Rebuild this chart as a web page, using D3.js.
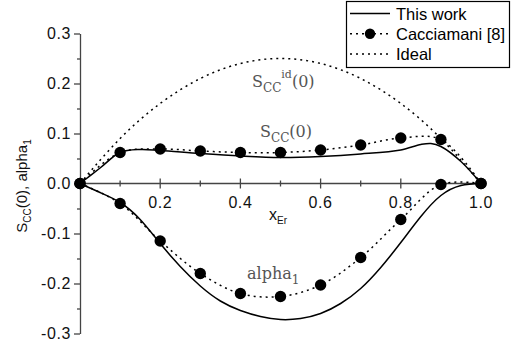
<!DOCTYPE html>
<html>
<head>
<meta charset="utf-8">
<script src="https://cdn.jsdelivr.net/npm/d3@7"></script>
<style>
  body { margin: 0; background: #fff; }
  svg { display: block; }
</style>
</head>
<body>
<div id="chart"></div>
<script>
// This work (solid)
var workSccX   = [0, 0.05, 0.1, 0.15, 0.2, 0.3, 0.4, 0.5, 0.6, 0.7, 0.8, 0.85, 0.875, 0.9, 0.95, 1.0];
var workSccY   = [0, 0.031, 0.062, 0.068, 0.066, 0.060, 0.055, 0.052, 0.054, 0.059, 0.067, 0.078, 0.080, 0.074, 0.044, 0];
var workAlphaX = [0, 0.05, 0.1, 0.15, 0.2, 0.25, 0.3, 0.35, 0.4, 0.45, 0.5, 0.55, 0.6, 0.65, 0.7, 0.75, 0.8, 0.85, 0.9, 0.95, 1.0];
var workAlphaY = [0, -0.018, -0.038, -0.072, -0.12, -0.166, -0.205, -0.235, -0.254, -0.266, -0.272, -0.27, -0.26, -0.24, -0.21, -0.168, -0.118, -0.066, -0.024, -0.004, 0];

// Cacciamani [8] (dots)
var refX      = [0, 0.1, 0.2, 0.3, 0.4, 0.5, 0.6, 0.7, 0.8, 0.9, 1.0];
var refSccY   = [0, 0.062, 0.069, 0.065, 0.062, 0.062, 0.067, 0.077, 0.091, 0.088, 0];
var refAlphaY = [0, -0.040, -0.115, -0.180, -0.220, -0.226, -0.203, -0.148, -0.072, -0.002, 0];

// Ideal
var idealX = [0, 0.1, 0.2, 0.3, 0.4, 0.5, 0.6, 0.7, 0.8, 0.9, 1.0];
var idealY = [0, 0.09, 0.16, 0.21, 0.24, 0.25, 0.24, 0.21, 0.16, 0.09, 0];

var yTicks = [-0.3, -0.2, -0.1, 0.0, 0.1, 0.2, 0.3];
var xTicks = [0.2, 0.4, 0.6, 0.8, 1.0];
var legendNames = ["This work", "Cacciamani [8]", "Ideal"];

var width = 511, height = 345;
var left = 80;

var svg = d3.select("#chart").append("svg")
  .attr("width", width)
  .attr("height", height);

var x = d3.scaleLinear().domain([0, 1]).range([left, 481]);
var y = d3.scaleLinear().domain([-0.3, 0.3]).range([333.5, 33.5]);

var axisColor = "#444";
var sans = "Liberation Sans, Arial, sans-serif";
var fmt = function(d) { return d3.format(".1f")(d).replace("\u2212", "-"); };

// y axis, minor ticks then major ticks
var yMinor = svg.append("g")
  .attr("transform", "translate(" + left + ",0)")
  .call(d3.axisLeft(y).tickValues(d3.range(-0.25, 0.3, 0.1)).tickSize(3).tickFormat(""));
var yMajor = svg.append("g")
  .attr("transform", "translate(" + left + ",0)")
  .call(d3.axisLeft(y).tickValues(yTicks).tickSize(6).tickSizeOuter(0).tickPadding(3).tickFormat(fmt));
[yMinor, yMajor].forEach(function(g) {
  g.selectAll("path, line").attr("stroke", axisColor).attr("stroke-width", 1.3);
});
yMinor.select(".domain").remove();
yMajor.selectAll("text")
  .attr("font-family", sans)
  .attr("font-size", 16)
  .attr("letter-spacing", 0.6)
  .attr("fill", "#111");

// x axis line through y = 0, ticks crossing it
var xg = svg.append("g").attr("transform", "translate(0," + y(0) + ")");
xg.append("line")
  .attr("x1", x(0)).attr("x2", x(1))
  .attr("stroke", axisColor).attr("stroke-width", 1.3);
xg.selectAll(".minor")
  .data([0.1, 0.3, 0.5, 0.7, 0.9])
  .enter().append("line")
  .attr("x1", function(d) { return x(d); })
  .attr("x2", function(d) { return x(d); })
  .attr("y1", -3).attr("y2", 3)
  .attr("stroke", axisColor).attr("stroke-width", 1.3);
xg.selectAll(".major")
  .data(xTicks)
  .enter().append("line")
  .attr("x1", function(d) { return x(d); })
  .attr("x2", function(d) { return x(d); })
  .attr("y1", -5).attr("y2", 5)
  .attr("stroke", axisColor).attr("stroke-width", 1.3);
xg.selectAll("text")
  .data(xTicks)
  .enter().append("text")
  .attr("x", function(d) { return x(d); })
  .attr("y", 24)
  .attr("text-anchor", "middle")
  .attr("font-family", sans)
  .attr("font-size", 16)
  .attr("letter-spacing", 0.6)
  .attr("fill", "#111")
  .text(fmt);

// axis titles
var xt = svg.append("text")
  .attr("x", 269).attr("y", 220)
  .attr("font-family", sans)
  .attr("font-size", 16)
  .attr("fill", "#111");
xt.append("tspan").text("x");
xt.append("tspan").attr("dy", 4).attr("font-size", 10).text("Er");

var yt = svg.append("text")
  .attr("transform", "translate(27,186) rotate(-90)")
  .attr("text-anchor", "middle")
  .attr("font-family", sans)
  .attr("font-size", 15)
  .attr("fill", "#111");
yt.append("tspan").text("S");
yt.append("tspan").attr("dy", 4).attr("font-size", 10).text("CC");
yt.append("tspan").attr("dy", -4).text("(0), alpha");
yt.append("tspan").attr("dy", 4).attr("font-size", 10).text("1");

// lines
var line = d3.line()
  .x(function(d) { return x(d[0]); })
  .y(function(d) { return y(d[1]); })
  .curve(d3.curveCatmullRom.alpha(0.5));
var natural = d3.line()
  .x(function(d) { return x(d[0]); })
  .y(function(d) { return y(d[1]); })
  .curve(d3.curveNatural);

var zip = function(xs, ys) { return xs.map(function(v, i) { return [v, ys[i]]; }); };

var dotted = "2,4";

svg.append("path").datum(zip(idealX, idealY))
  .attr("d", natural)
  .attr("fill", "none").attr("stroke", "#000").attr("stroke-width", 1.5)
  .attr("stroke-dasharray", dotted);

[refSccY, refAlphaY].forEach(function(ys) {
  svg.append("path").datum(zip(refX, ys))
    .attr("d", line)
    .attr("fill", "none").attr("stroke", "#000").attr("stroke-width", 1.5)
    .attr("stroke-dasharray", dotted);
});

svg.append("path").datum(zip(workSccX, workSccY))
  .attr("d", line)
  .attr("fill", "none").attr("stroke", "#000").attr("stroke-width", 1.5);
svg.append("path").datum(zip(workAlphaX, workAlphaY))
  .attr("d", natural)
  .attr("fill", "none").attr("stroke", "#000").attr("stroke-width", 1.5);

[refSccY, refAlphaY].forEach(function(ys) {
  svg.append("g").selectAll("circle")
    .data(zip(refX, ys))
    .enter().append("circle")
    .attr("cx", function(d) { return x(d[0]); })
    .attr("cy", function(d) { return y(d[1]); })
    .attr("r", 5.7)
    .attr("fill", "#000");
});

// curve annotations
var note = function(px, py, main, sub, sup, rest) {
  var t = svg.append("text")
    .attr("x", px).attr("y", py)
    .attr("font-family", "DejaVu Serif, serif")
    .attr("font-size", 16)
    .attr("fill", "#555");
  t.append("tspan").text(main);
  t.append("tspan").attr("dy", 5).attr("font-size", 12).text(sub);
  if (sup) {
    t.append("tspan").attr("dy", -14).attr("font-size", 11).text(sup);
    t.append("tspan").attr("dy", 9).text(rest);
  } else if (rest) {
    t.append("tspan").attr("dy", -5).text(rest);
  }
};
note(252, 87, "S", "CC", "id", "(0)");
note(260, 137, "S", "CC", null, "(0)");
note(247, 279, "alpha", "1", null, null);

// legend
var lg = svg.append("g");
lg.append("rect")
  .attr("x", 346.5).attr("y", 1.5)
  .attr("width", 163).attr("height", 66)
  .attr("fill", "#fff").attr("stroke", "#000").attr("stroke-width", 1.2);
var ly = d3.scalePoint().domain(legendNames).range([13.5, 54]);
lg.selectAll(".lline")
  .data(legendNames)
  .enter().append("line")
  .attr("x1", 350).attr("x2", 390)
  .attr("y1", function(d) { return ly(d); })
  .attr("y2", function(d) { return ly(d); })
  .attr("stroke", "#000").attr("stroke-width", 1.5)
  .attr("stroke-dasharray", function(d, i) { return i === 0 ? null : dotted; });
lg.append("circle")
  .attr("cx", 370).attr("cy", ly(legendNames[1])).attr("r", 5.2)
  .attr("fill", "#000");
lg.selectAll("text")
  .data(legendNames)
  .enter().append("text")
  .attr("x", 396)
  .attr("y", function(d) { return ly(d) + 6; })
  .attr("font-family", sans)
  .attr("font-size", 16.5)
  .attr("fill", "#000")
  .text(function(d) { return d; });
</script>
</body>
</html>
